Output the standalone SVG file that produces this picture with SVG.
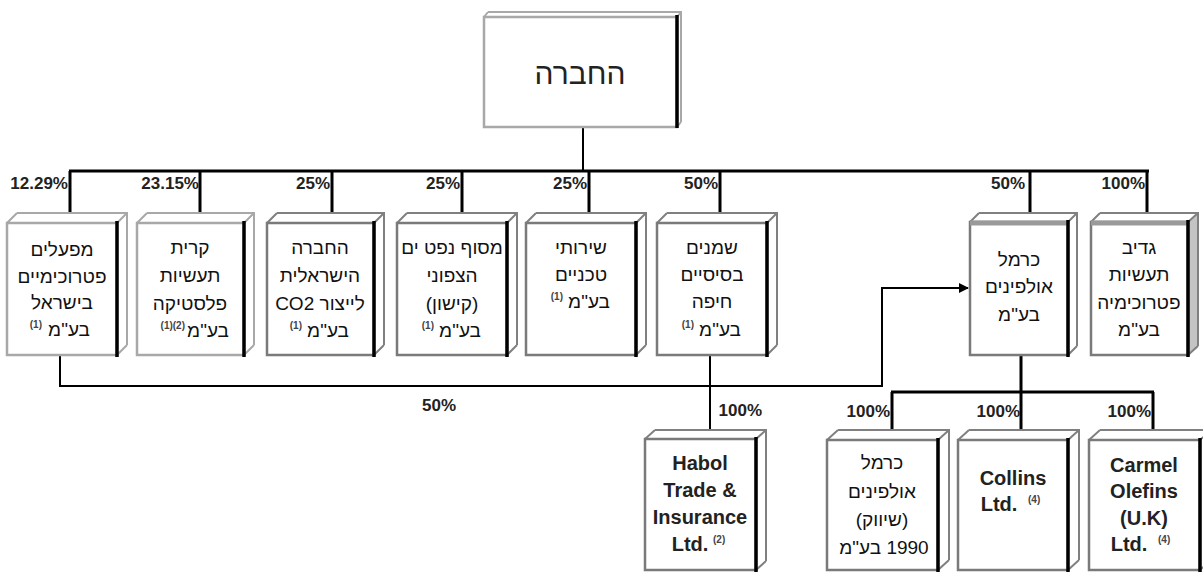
<svg xmlns="http://www.w3.org/2000/svg" width="1203" height="572" viewBox="0 0 1203 572">
<defs>
<style>
.bg{fill:#fff}
.back{fill:none;stroke:#a8a8a8;stroke-width:2}
.front{fill:#fff;stroke:#a8a8a8;stroke-width:2.5}
.d .back{stroke:#808080}
.d .front{stroke:#7a7a7a}
.edge{stroke:#000;stroke-width:3.5}
.con{fill:none;stroke:#000;stroke-width:3}
.thin{fill:none;stroke:#000;stroke-width:2}
.he{font-family:"Liberation Sans","DejaVu Sans",sans-serif;font-size:19px;fill:#111;text-anchor:middle}
.en{font-family:"Liberation Sans",Arial,sans-serif;font-size:20px;font-weight:bold;fill:#222;text-anchor:middle}
.sup{font-family:"Liberation Sans",Arial,sans-serif;font-size:10px;font-weight:bold;fill:#444}
.pct{font-family:"Liberation Sans",Arial,sans-serif;font-size:17px;font-weight:bold;fill:#222;text-anchor:end}
.top{font-family:"Liberation Sans","DejaVu Sans",sans-serif;font-size:30px;fill:#222;text-anchor:middle}
</style>
<marker id="arr" markerWidth="10" markerHeight="10" refX="9" refY="5" orient="auto" markerUnits="userSpaceOnUse">
<path d="M0,0 L10,5 L0,10 Z" fill="#000"/>
</marker>
</defs>
<rect class="bg" x="0" y="0" width="1203" height="572"/>

<g id="connectors">
<line class="thin" x1="583" y1="127" x2="583" y2="171"/>
<line class="con" x1="69" y1="171" x2="1149" y2="171"/>
<path class="con" d="M70,171 V213 M200,171 V213 M332,171 V213 M462,171 V213 M589,171 V213 M720,171 V213 M1030,171 V213 M1147,171 V213"/>
<line class="thin" x1="710" y1="355" x2="710" y2="430"/>
<path class="con" d="M1021,355 V392 M891,392 H1154 M892,392 V430 M1021,392 V430 M1153,392 V430"/>
<path class="thin" d="M60,355 V386 H882 V288 H968" marker-end="url(#arr)"/>
<text class="pct" x="68" y="189">12.29%</text>
<text class="pct" x="199" y="189">23.15%</text>
<text class="pct" x="330" y="189">25%</text>
<text class="pct" x="460" y="189">25%</text>
<text class="pct" x="587" y="189">25%</text>
<text class="pct" x="718" y="189">50%</text>
<text class="pct" x="1025" y="189">50%</text>
<text class="pct" x="1145" y="189">100%</text>
<text class="pct" x="456" y="411">50%</text>
<text class="pct" x="762" y="416">100%</text>
<text class="pct" x="890" y="417">100%</text>
<text class="pct" x="1020" y="417">100%</text>
<text class="pct" x="1151" y="417">100%</text>
</g>

<g id="top">
<path class="back" d="M488,12 H681 V122 M484,17 L488,12 M677,17 L681,12 M677,127 L681,122"/>
<rect class="front" x="484" y="17" width="193" height="110"/>
<line class="edge" x1="677" y1="15" x2="677" y2="128"/>
<text class="top" x="580" y="84" direction="rtl">החברה</text>
</g>

<g id="b1">
<path class="back" d="M17,213 H127 V345 M7,223 L17,213 M117,223 L127,213 M117,355 L127,345"/>
<rect class="front" x="7" y="223" width="110" height="132"/>
<line class="edge" x1="117" y1="221" x2="117" y2="357"/>
<text class="he" x="62" y="256" direction="rtl">מפעלים</text>
<text class="he" x="62" y="283" direction="rtl">פטרוכימיים</text>
<text class="he" x="62" y="309" direction="rtl">בישראל</text>
<text class="he" x="69" y="336" direction="rtl">בע"מ</text>
<text class="sup" x="42" y="328" text-anchor="end">(1)</text>
</g>

<g id="b2">
<path class="back" d="M147,213 H254 V345 M137,223 L147,213 M244,223 L254,213 M244,355 L254,345"/>
<rect class="front" x="137" y="223" width="107" height="132"/>
<line class="edge" x1="244" y1="221" x2="244" y2="357"/>
<text class="he" x="190" y="254" direction="rtl">קרית</text>
<text class="he" x="190" y="282" direction="rtl">תעשיות</text>
<text class="he" x="190" y="310" direction="rtl">פלסטיקה</text>
<text class="he" x="208" y="337" direction="rtl">בע"מ</text>
<text class="sup" x="185" y="329" text-anchor="end">(1)(2)</text>
</g>

<g id="b3" class="d">
<path class="back" d="M277,213 H384 V345 M267,223 L277,213 M374,223 L384,213 M374,355 L384,345"/>
<rect class="front" x="267" y="223" width="107" height="132"/>
<line class="edge" x1="374" y1="221" x2="374" y2="357"/>
<text class="he" x="320" y="254" direction="rtl">החברה</text>
<text class="he" x="320" y="282" direction="rtl">הישראלית</text>
<text class="he" x="320" y="310" direction="rtl">לייצור CO2</text>
<text class="he" x="328" y="337" direction="rtl">בע"מ</text>
<text class="sup" x="302" y="329" text-anchor="end">(1)</text>
</g>

<g id="b4" class="d">
<path class="back" d="M407,213 H517 V345 M397,223 L407,213 M507,223 L517,213 M507,355 L517,345"/>
<rect class="front" x="397" y="223" width="110" height="132"/>
<line class="edge" x1="507" y1="221" x2="507" y2="357"/>
<text class="he" x="452" y="254" direction="rtl">מסוף נפט ים</text>
<text class="he" x="452" y="282" direction="rtl">הצפוני</text>
<text class="he" x="452" y="310" direction="rtl">(קישון)</text>
<text class="he" x="460" y="337" direction="rtl">בע"מ</text>
<text class="sup" x="434" y="329" text-anchor="end">(1)</text>
</g>

<g id="b5" class="d">
<path class="back" d="M536,213 H646 V345 M526,223 L536,213 M636,223 L646,213 M636,355 L646,345"/>
<rect class="front" x="526" y="223" width="110" height="132"/>
<line class="edge" x1="636" y1="221" x2="636" y2="357"/>
<text class="he" x="581" y="254" direction="rtl">שירותי</text>
<text class="he" x="581" y="281" direction="rtl">טכניים</text>
<text class="he" x="589" y="308" direction="rtl">בע"מ</text>
<text class="sup" x="563" y="300" text-anchor="end">(1)</text>
</g>

<g id="b6" class="d">
<path class="back" d="M667,213 H777 V345 M657,223 L667,213 M767,223 L777,213 M767,355 L777,345"/>
<rect class="front" x="657" y="223" width="110" height="132"/>
<line class="edge" x1="767" y1="221" x2="767" y2="357"/>
<text class="he" x="712" y="254" direction="rtl">שמנים</text>
<text class="he" x="712" y="281" direction="rtl">בסיסיים</text>
<text class="he" x="712" y="308" direction="rtl">חיפה</text>
<text class="he" x="720" y="336" direction="rtl">בע"מ</text>
<text class="sup" x="694" y="328" text-anchor="end">(1)</text>
</g>

<g id="b7" class="d">
<path class="back" d="M979,213 H1077 V346 M970,222 L979,213 M1068,222 L1077,213 M1068,355 L1077,346"/>
<rect class="front" x="970" y="222" width="98" height="133"/>
<line x1="970" y1="223" x2="1068" y2="223" stroke="#9a9a9a" stroke-width="5"/>
<line class="edge" x1="1068" y1="220" x2="1068" y2="357"/>
<text class="he" x="1019" y="266" direction="rtl">כרמל</text>
<text class="he" x="1019" y="293" direction="rtl">אולפינים</text>
<text class="he" x="1019" y="321" direction="rtl">בע"מ</text>
</g>

<g id="b8" class="d">
<path d="M1188,222 L1198,213 V346 L1188,355 Z" fill="#c4c4c4"/>
<path class="back" d="M1100,213 H1198 V346 M1091,222 L1100,213 M1188,222 L1198,213 M1188,355 L1198,346"/>
<rect class="front" x="1091" y="222" width="97" height="133"/>
<line x1="1091" y1="223" x2="1188" y2="223" stroke="#9a9a9a" stroke-width="5"/>
<line class="edge" x1="1188" y1="220" x2="1188" y2="357"/>
<text class="he" x="1139" y="254" direction="rtl">גדיב</text>
<text class="he" x="1139" y="281" direction="rtl">תעשיות</text>
<text class="he" x="1139" y="309" direction="rtl">פטרוכימיה</text>
<text class="he" x="1139" y="336" direction="rtl">בע"מ</text>
</g>

<g id="habol" class="d">
<path class="back" d="M655,430 H766 V561 M645,439 L655,430 M756,439 L766,430 M756,570 L766,561"/>
<rect class="front" x="645" y="439" width="111" height="131"/>
<line class="edge" x1="756" y1="437" x2="756" y2="572"/>
<text class="en" x="700" y="470">Habol</text>
<text class="en" x="700" y="497">Trade &amp;</text>
<text class="en" x="700" y="524">Insurance</text>
<text class="en" x="690" y="551">Ltd.</text>
<text class="sup" x="713" y="543">(2)</text>
</g>

<g id="b9" class="d">
<path class="back" d="M838,430 H949 V560 M827,440 L838,430 M938,440 L949,430 M938,570 L949,560"/>
<rect class="front" x="827" y="440" width="111" height="130"/>
<line class="edge" x1="938" y1="438" x2="938" y2="572"/>
<text class="he" x="882" y="469" direction="rtl">כרמל</text>
<text class="he" x="882" y="498" direction="rtl">אולפינים</text>
<text class="he" x="882" y="526" direction="rtl">(שיווק)</text>
<text class="he" x="884" y="554" direction="rtl">1990 בע"מ</text>
</g>

<g id="b10" class="d">
<path class="back" d="M969,430 H1079 V560 M958,440 L969,430 M1068,440 L1079,430 M1068,570 L1079,560"/>
<rect class="front" x="958" y="440" width="110" height="130"/>
<line class="edge" x1="1068" y1="438" x2="1068" y2="572"/>
<text class="en" x="1013" y="485">Collins</text>
<text class="en" x="999" y="511">Ltd.</text>
<text class="sup" x="1028" y="503">(4)</text>
</g>

<g id="b11" class="d">
<path class="back" d="M1100,430 H1211 V560 M1089,440 L1100,430 M1200,440 L1211,430 M1200,570 L1211,560"/>
<rect class="front" x="1089" y="440" width="111" height="130"/>
<line class="edge" x1="1200" y1="438" x2="1200" y2="572"/>
<text class="en" x="1144" y="472">Carmel</text>
<text class="en" x="1144" y="498">Olefins</text>
<text class="en" x="1144" y="525">(U.K)</text>
<text class="en" x="1129" y="551">Ltd.</text>
<text class="sup" x="1158" y="543">(4)</text>
</g>
</svg>
